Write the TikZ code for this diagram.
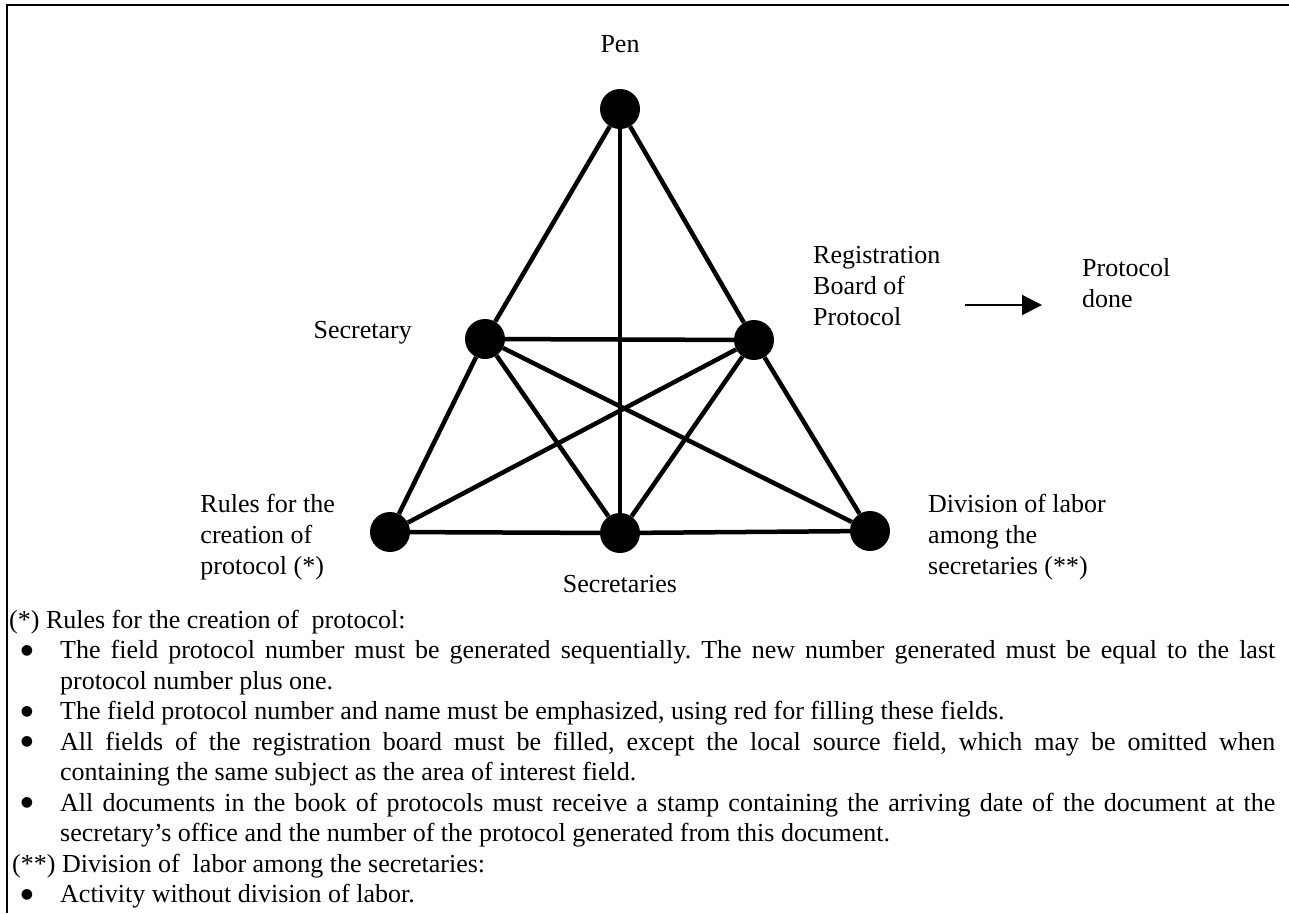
\documentclass[tikz,border=0pt]{standalone}
\usepackage{fontspec}
\setmainfont{Liberation Serif}
\newfontfamily\bulletfont{DejaVu Sans}
\usetikzlibrary{arrows.meta}
\begin{document}
\frenchspacing
\begin{tikzpicture}[x=1pt,y=-1pt,
  vertex/.style={circle,fill=black,minimum size=40pt,inner sep=0pt},
  edge/.style={line width=4.5pt},
  lbl/.style={inner sep=0pt,align=left,font=\fontsize{26}{31}\selectfont},
  txt/.style={inner sep=0pt,anchor=base west,font=\fontsize{26}{30.5}\selectfont\frenchspacing},
  bul/.style={inner sep=0pt,anchor=base,font=\bulletfont\fontsize{14}{14}\selectfont},
  frame/.style={line width=2pt},
  pointer/.style={line width=2pt,-{Triangle[length=20pt,width=20pt]}}
]
\useasboundingbox (0,0) rectangle (1289,913);
\coordinate (fbl) at (7,913);
\coordinate (ftl) at (7,5);
\coordinate (ftr) at (1289,5);
\draw[frame] (fbl) -- (ftl) -- (ftr);

% graph
\node[vertex] (pen) at (620,109) {};
\node[vertex] (sec) at (485,339) {};
\node[vertex] (reg) at (754,340) {};
\node[vertex] (rul) at (390,532) {};
\node[vertex] (secs) at (620,533) {};
\node[vertex] (div) at (870,531) {};

\draw[edge] (pen) -- (sec);
\draw[edge] (pen) -- (secs);
\draw[edge] (pen) -- (reg);
\draw[edge] (sec) -- (reg);
\draw[edge] (sec) -- (rul);
\draw[edge] (sec) -- (secs);
\draw[edge] (sec) -- (div);
\draw[edge] (reg) -- (rul);
\draw[edge] (reg) -- (secs);
\draw[edge] (reg) -- (div);
\draw[edge] (rul) -- (secs);
\draw[edge] (secs) -- (div);

% labels (base anchor = last line)
\node[lbl,anchor=base] (penl) at (620,52) {Pen};
\node[lbl,anchor=base east] (secl) at (412,338) {Secretary};
\node[lbl,anchor=base west] (regl) at (813,325) {Registration\\Board of\\Protocol};
\node[lbl,anchor=base west] (done) at (1082,307) {Protocol\\done};
\node[lbl,anchor=base east] (rull) at (335,574) {Rules for the\\creation of\\protocol (*)};
\node[lbl,anchor=base west] (divl) at (928,574) {Division of labor\\among the\\secretaries (**)};
\node[lbl,anchor=base] (secsl) at (620,592) {Secretaries};

\coordinate (a1) at (965,305);
\coordinate (a2) at (1042,305);
\draw[pointer] (a1) -- (a2);

% notes
\node[txt] (n0) at (9,628) {(*) Rules for the creation of~ protocol:};
\node[bul] (b1) at (27,654) {●};
\node[txt] (t1) at (60,658.5) {\makebox[1215pt][s]{The field protocol number must be generated sequentially. The new number generated must be equal to the last}};
\node[txt] (t1b) at (60,689) {protocol number plus one.};
\node[bul] (b2) at (27,715) {●};
\node[txt] (t2) at (60,719.5) {The field protocol number and name must be emphasized, using red for filling these fields.};
\node[bul] (b3) at (27,745.5) {●};
\node[txt] (t3) at (60,750) {\makebox[1215pt][s]{All fields of the registration board must be filled, except the local source field, which may be omitted when}};
\node[txt] (t3b) at (60,780.5) {containing the same subject as the area of interest field.};
\node[bul] (b4) at (27,806.5) {●};
\node[txt] (t4) at (60,811) {\makebox[1215pt][s]{All documents in the book of protocols must receive a stamp containing the arriving date of the document at the}};
\node[txt] (t4b) at (60,841.5) {secretary’s office and the number of the protocol generated from this document.};
\node[txt] (n1) at (12,872) {(**) Division of~ labor among the secretaries:};
\node[bul] (b5) at (27,898) {●};
\node[txt] (t5) at (60,902.5) {Activity without division of labor.};
\end{tikzpicture}
\end{document}
